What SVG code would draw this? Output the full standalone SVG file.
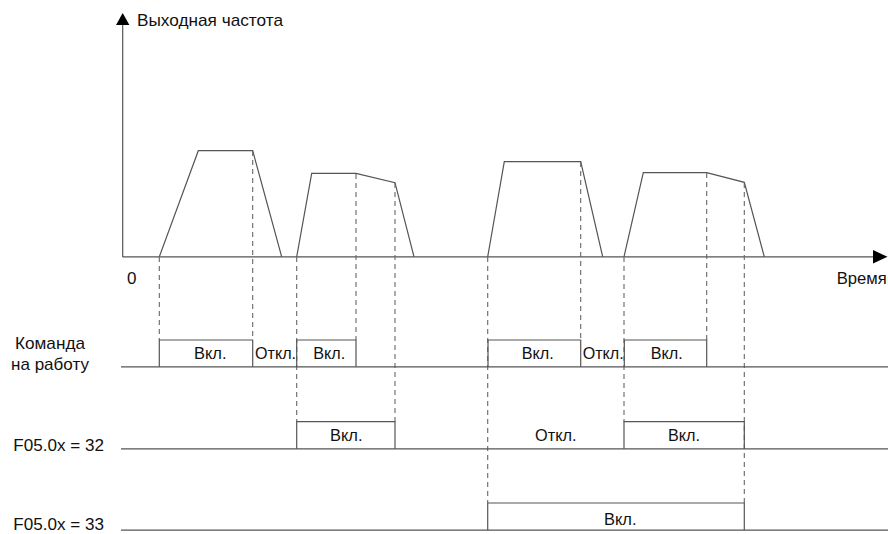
<svg xmlns="http://www.w3.org/2000/svg" width="888" height="534" viewBox="0 0 888 534">
<style>
.ln{fill:none;stroke:#555;stroke-width:1.2}
.ds{fill:none;stroke:#666;stroke-width:1.1;stroke-dasharray:5 4}
.tx{font-family:"Liberation Sans",Arial,sans-serif;font-size:17px;fill:#111}
.ah{fill:#000}
</style>
<rect width="888" height="534" fill="#fff"/>
<g id="axes">
<line class="ln" x1="122.7" y1="22" x2="122.7" y2="257"/>
<polygon class="ah" points="122.7,13 116,25 129.4,25"/>
<line class="ln" x1="122.7" y1="256.8" x2="874" y2="256.8"/>
<polygon class="ah" points="887.5,256.8 873,250 873,263.6"/>
<text class="tx" x="137" y="25.5" textLength="146" lengthAdjust="spacingAndGlyphs">Выходная частота</text>
<text class="tx" x="127" y="283.5">0</text>
<text class="tx" x="836.7" y="283.5" textLength="50" lengthAdjust="spacingAndGlyphs">Время</text>
</g>
<g id="frequency">
<polyline class="ln" points="159.3,256.8 198.3,150.7 252.7,150.7 281.7,256.8"/>
<polyline class="ln" points="296.7,256.8 311.7,173.3 356,173.3 395,182.7 414,256.8"/>
<polyline class="ln" points="487.7,256.8 504.3,161.7 580.7,161.7 602.7,256.8"/>
<polyline class="ln" points="624,256.8 643.3,172.7 706.7,172.7 744.3,182.3 764.3,256.8"/>
</g>
<g id="connectors">
<line class="ds" x1="159.3" y1="257" x2="159.3" y2="340"/>
<line class="ds" x1="252.7" y1="151" x2="252.7" y2="340"/>
<line class="ds" x1="296.7" y1="257" x2="296.7" y2="421.7"/>
<line class="ds" x1="356" y1="174" x2="356" y2="340"/>
<line class="ds" x1="395" y1="183" x2="395" y2="421.7"/>
<line class="ds" x1="487.7" y1="257" x2="487.7" y2="503"/>
<line class="ds" x1="580.7" y1="162" x2="580.7" y2="340"/>
<line class="ds" x1="624" y1="257" x2="624" y2="421.7"/>
<line class="ds" x1="706.7" y1="173" x2="706.7" y2="340"/>
<line class="ds" x1="744.3" y1="183" x2="744.3" y2="503"/>
</g>
<g id="run-command">
<text class="tx" x="15" y="349.3" textLength="70" lengthAdjust="spacingAndGlyphs">Команда</text>
<text class="tx" x="11" y="370" textLength="78" lengthAdjust="spacingAndGlyphs">на работу</text>
<line class="ln" x1="121" y1="366.8" x2="888" y2="366.8"/>
<polyline class="ln" points="159.3,366.8 159.3,340 252.7,340 252.7,366.8"/>
<polyline class="ln" points="296.7,366.8 296.7,340 356,340 356,366.8"/>
<polyline class="ln" points="488,366.8 488,340 580.7,340 580.7,366.8"/>
<polyline class="ln" points="624.3,366.8 624.3,340 706.7,340 706.7,366.8"/>
<text class="tx" x="194" y="359" textLength="32.5" lengthAdjust="spacingAndGlyphs">Вкл.</text>
<text class="tx" x="255" y="359" textLength="41" lengthAdjust="spacingAndGlyphs">Откл.</text>
<text class="tx" x="313.3" y="359" textLength="32" lengthAdjust="spacingAndGlyphs">Вкл.</text>
<text class="tx" x="521.7" y="359" textLength="32" lengthAdjust="spacingAndGlyphs">Вкл.</text>
<text class="tx" x="582.7" y="359" textLength="41" lengthAdjust="spacingAndGlyphs">Откл.</text>
<text class="tx" x="650.7" y="359" textLength="32" lengthAdjust="spacingAndGlyphs">Вкл.</text>
</g>
<g id="f32">
<text class="tx" x="13.3" y="450.5" textLength="90.7" lengthAdjust="spacingAndGlyphs">F05.0x = 32</text>
<line class="ln" x1="121" y1="448.8" x2="888" y2="448.8"/>
<polyline class="ln" points="296.7,448.8 296.7,421.7 395,421.7 395,448.8"/>
<polyline class="ln" points="624,448.8 624,421.7 744.3,421.7 744.3,448.8"/>
<text class="tx" x="330" y="441" textLength="32.5" lengthAdjust="spacingAndGlyphs">Вкл.</text>
<text class="tx" x="535" y="441" textLength="41.5" lengthAdjust="spacingAndGlyphs">Откл.</text>
<text class="tx" x="668" y="441" textLength="32" lengthAdjust="spacingAndGlyphs">Вкл.</text>
</g>
<g id="f33">
<text class="tx" x="13.3" y="530" textLength="90.7" lengthAdjust="spacingAndGlyphs">F05.0x = 33</text>
<line class="ln" x1="121" y1="530.2" x2="888" y2="530.2"/>
<polyline class="ln" points="487.7,530.2 487.7,503 744.3,503 744.3,530.2"/>
<text class="tx" x="604" y="524.5" textLength="32.5" lengthAdjust="spacingAndGlyphs">Вкл.</text>
</g>
</svg>
